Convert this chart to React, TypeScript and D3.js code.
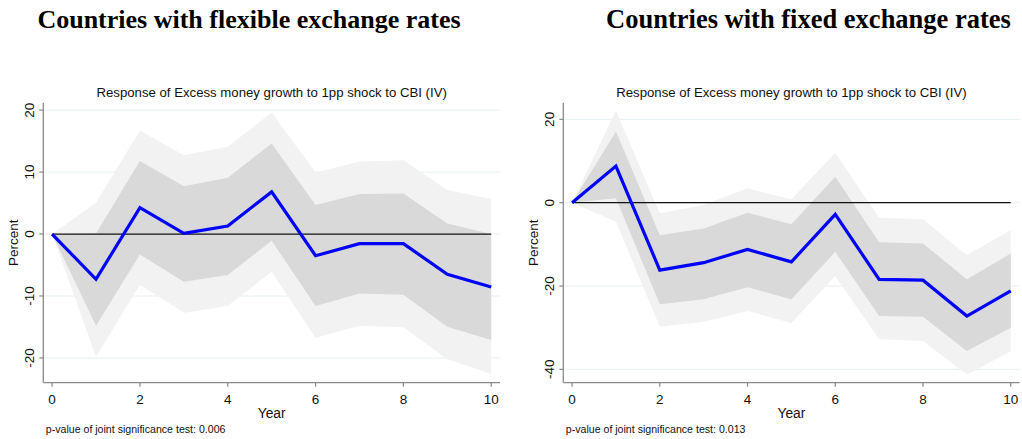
import React from "react";
import * as d3 from "d3";

const years = [0, 1, 2, 3, 4, 5, 6, 7, 8, 9, 10];

// Flexible exchange rates
const flexIrf = [0, -7.3, 4.25, 0.1, 1.3, 6.8, -3.5, -1.55, -1.55, -6.5, -8.55];
const flexDarkUp = [0, 0.1, 11.8, 7.7, 9.1, 14.6, 4.7, 6.45, 6.55, 1.7, 0];
const flexDarkLo = [0, -14.8, -3.3, -7.7, -6.6, -1.1, -11.6, -9.6, -9.8, -14.95, -17.1];
const flexLightUp = [0, 5.05, 16.7, 12.7, 14.1, 19.6, 9.95, 11.7, 11.9, 7.1, 5.65];
const flexLightLo = [0, -19.8, -8.2, -12.7, -11.6, -6.1, -16.8, -14.8, -15.05, -20.2, -22.6];

// Fixed exchange rates
const fixIrf = [0, 8.8, -16.2, -14.4, -11.2, -14.2, -2.8, -18.4, -18.6, -27.2, -21.15];
const fixDarkUp = [0, 17.1, -7.8, -6.2, -2.4, -5.2, 6.25, -9.5, -9.8, -18.4, -12.2];
const fixDarkLo = [0, 1.05, -24.4, -23.15, -20.3, -23.15, -11.8, -27.2, -27.4, -35.6, -30.0];
const fixLightUp = [0, 22.1, -2.55, -0.55, 3.45, 0.8, 12.0, -3.6, -4.0, -12.6, -6.55];
const fixLightLo = [0, -4.55, -29.8, -28.6, -26.0, -28.85, -17.6, -32.8, -33.2, -41.25, -35.65];

const xTicks = [0, 2, 4, 6, 8, 10];
const flexYTicks = [-20, -10, 0, 10, 20];
const fixYTicks = [-40, -20, 0, 20];

const headings = ["Countries with flexible exchange rates", "Countries with fixed exchange rates"];
const panelTitle = "Response of Excess money growth to 1pp shock to CBI (IV)";
const pvalues = ["p-value of joint significance test: 0.006", "p-value of joint significance test: 0.013"];

type PanelProps = {
  left: number;
  right: number;
  yDomain: [number, number];
  yTicks: number[];
  irf: number[];
  darkUp: number[];
  darkLo: number[];
  lightUp: number[];
  lightLo: number[];
  pvalue: string;
};

const TOP = 102.7;
const BOTTOM = 382.7;
const SANS = "Arial, 'Liberation Sans', sans-serif";

function Panel(p: PanelProps) {
  const x = d3.scaleLinear().domain([-0.2, 10.2]).range([p.left, p.right]);
  const y = d3.scaleLinear().domain(p.yDomain).range([BOTTOM, TOP]);
  const area = (up: number[], lo: number[]) =>
    d3
      .area<number>()
      .x((d) => x(d))
      .y0((_, i) => y(lo[i]))
      .y1((_, i) => y(up[i]))(years) as string;
  const line = d3
    .line<number>()
    .x((d) => x(d))
    .y((_, i) => y(p.irf[i]))(years) as string;
  const cx = (p.left + p.right) / 2;
  const axisColor = "#8a8a8a";
  return (
    <g>
      <text x={cx} y={97} textAnchor="middle" fontFamily={SANS} fontSize={13.2} fill="#111">
        {panelTitle}
      </text>
      {p.yTicks.map((t) => (
        <line key={"g" + t} x1={p.left} x2={p.right} y1={y(t)} y2={y(t)} stroke="#e6f0f2" strokeWidth={1} />
      ))}
      <path d={area(p.lightUp, p.lightLo)} fill="#f2f2f2" />
      <path d={area(p.darkUp, p.darkLo)} fill="#d9d9d9" />
      <line x1={x(0)} x2={x(10)} y1={y(0)} y2={y(0)} stroke="#111" strokeWidth={1.2} />
      <path d={line} fill="none" stroke="#0000ff" strokeWidth={3.2} strokeLinejoin="miter" />
      <line x1={p.left} x2={p.left} y1={TOP} y2={BOTTOM} stroke={axisColor} strokeWidth={1.3} />
      <line x1={p.left} x2={p.right} y1={BOTTOM} y2={BOTTOM} stroke={axisColor} strokeWidth={1.3} />
      {p.yTicks.map((t) => (
        <g key={"y" + t}>
          <line x1={p.left - 4} x2={p.left} y1={y(t)} y2={y(t)} stroke={axisColor} strokeWidth={1.2} />
          <text
            transform={`translate(${p.left - 9},${y(t)}) rotate(-90)`}
            textAnchor="middle"
            fontFamily={SANS}
            fontSize={13.5}
            fill="#111"
          >
            {t}
          </text>
        </g>
      ))}
      {xTicks.map((t) => (
        <g key={"x" + t}>
          <line x1={x(t)} x2={x(t)} y1={BOTTOM} y2={BOTTOM + 4} stroke={axisColor} strokeWidth={1.2} />
          <text x={x(t)} y={BOTTOM + 21.5} textAnchor="middle" fontFamily={SANS} fontSize={13.5} fill="#111">
            {t}
          </text>
        </g>
      ))}
      <text x={cx} y={417.5} textAnchor="middle" fontFamily={SANS} fontSize={13.8} fill="#111">
        Year
      </text>
      <text
        transform={`translate(${p.left - 25},${(TOP + BOTTOM) / 2}) rotate(-90)`}
        textAnchor="middle"
        fontFamily={SANS}
        fontSize={13.5}
        fill="#111"
      >
        Percent
      </text>
      <text x={p.left + 2.5} y={432.5} fontFamily={SANS} fontSize={10.6} fill="#111">
        {p.pvalue}
      </text>
    </g>
  );
}

export default function App() {
  const flexDomain: [number, number] = [-24.0, 21.2];
  const fixDomain: [number, number] = [-43.2, 24.0];
  return (
    <svg width={1022} height={439} style={{ position: "absolute", left: 0, top: 0, background: "#fff" }}>
      <rect width={1022} height={439} fill="#fff" />
      <text x={249} y={28} textAnchor="middle" fontFamily="'Liberation Serif', 'Times New Roman', serif" fontWeight="bold" fontSize={26} fill="#000">
        {headings[0]}
      </text>
      <text x={808.5} y={28} textAnchor="middle" fontFamily="'Liberation Serif', 'Times New Roman', serif" fontWeight="bold" fontSize={26.5} fill="#000">
        {headings[1]}
      </text>
      <Panel
        left={43.3}
        right={500}
        yDomain={flexDomain}
        yTicks={flexYTicks}
        irf={flexIrf}
        darkUp={flexDarkUp}
        darkLo={flexDarkLo}
        lightUp={flexLightUp}
        lightLo={flexLightLo}
        pvalue={pvalues[0]}
      />
      <Panel
        left={563.3}
        right={1019.5}
        yDomain={fixDomain}
        yTicks={fixYTicks}
        irf={fixIrf}
        darkUp={fixDarkUp}
        darkLo={fixDarkLo}
        lightUp={fixLightUp}
        lightLo={fixLightLo}
        pvalue={pvalues[1]}
      />
    </svg>
  );
}
